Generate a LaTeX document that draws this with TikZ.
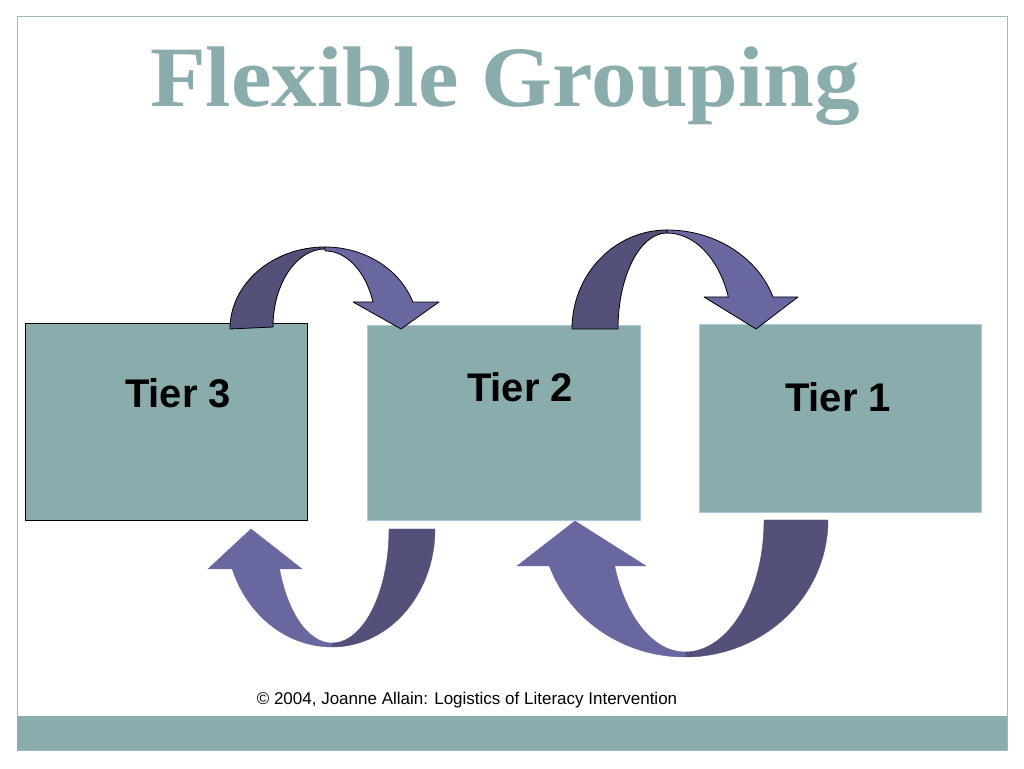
\documentclass[tikz,border=0pt]{standalone}
\usepackage{fontspec}
\setmainfont{Liberation Sans}
\newfontfamily\titlefont{Liberation Serif}
\usepackage{tikz}

\definecolor{slateteal}{RGB}{138,172,172}
\definecolor{framegray}{RGB}{160,186,186}
\definecolor{edgeblue}{RGB}{170,202,222}
\definecolor{arrowdark}{RGB}{83,80,122}
\definecolor{arrowlight}{RGB}{104,103,160}

\tikzset{
  tierbox/.style={draw, fill=slateteal, inner sep=0pt},
  tiertext/.style={font=\bfseries\fontsize{40}{44}\selectfont, anchor=base},
  toparrow/.style={draw=black, line width=0.8pt, line join=round},
  lowarrow/.style={line width=0.4pt}
}

\begin{document}
\begin{tikzpicture}[x=1pt, y=1pt]
\useasboundingbox (0,0) rectangle (1024,768);
\fill [white] (0,0) rectangle (1024,768);
\draw [framegray, line width=1pt] (17,18) rectangle (1007,751);
\fill [slateteal] (17,18) rectangle (1007,52);

\node [font=\titlefont\bfseries\fontsize{86}{90}\selectfont, text=slateteal, anchor=base] (title) at (505,661) {\scalebox{1.06}[1]{Flexible Grouping}};

\node [tierbox, draw=black, minimum width=282pt, minimum height=197pt] (tier3) at (166,346.5) {};
\node [tierbox, draw=edgeblue, minimum width=273pt, minimum height=195pt] (tier2) at (503.5,345.5) {};
\node [tierbox, draw=edgeblue, minimum width=282pt, minimum height=188pt] (tier1) at (840,350) {};
\node [tiertext] (tier3label) at (178,360) {Tier 3};
\node [tiertext] (tier2label) at (520,366) {Tier 2};
\node [tiertext] (tier1label) at (838,356) {Tier 1};

\draw [toparrow, fill=arrowdark] (230,439) arc [start angle=180, end angle=90, x radius=95, y radius=82]
  -- (325,519) arc [start angle=90, end angle=180, x radius=52, y radius=78] -- cycle;
\draw [toparrow, fill=arrowlight] (325,521) arc [start angle=90, end angle=19.2, x radius=93, y radius=82]
  -- (439,466) -- (401,439) -- (353,466) -- (373,466)
  arc [start angle=20.2, end angle=90, x radius=51, y radius=78] -- cycle;

\draw [toparrow, fill=arrowdark] (572,439) arc [start angle=180, end angle=90, x radius=95, y radius=99]
  -- (667,535) arc [start angle=90, end angle=180, x radius=49, y radius=96] -- cycle;
\draw [toparrow, fill=arrowlight] (667,538) arc [start angle=90, end angle=18.9, x radius=112, y radius=99]
  -- (798,471) -- (756,439) -- (704,471) -- (728.3,471)
  arc [start angle=19.5, end angle=90, x radius=65, y radius=96] -- cycle;

\draw [lowarrow, draw=arrowdark, fill=arrowdark] (435,239) arc [start angle=0, end angle=-90, x radius=103, y radius=118]
  -- (332,125) arc [start angle=-90, end angle=0, x radius=57, y radius=114] -- cycle;
\draw [lowarrow, draw=arrowlight, fill=arrowlight] (332,121) arc [start angle=270, end angle=199.8, x radius=106, y radius=118]
  -- (208,199) -- (251,239) -- (302,199) -- (279.6,199)
  arc [start angle=200.5, end angle=270, x radius=56, y radius=114] -- cycle;

\draw [lowarrow, draw=arrowdark, fill=arrowdark] (828,248) arc [start angle=0, end angle=-90, x radius=143, y radius=137]
  -- (685,116) arc [start angle=-90, end angle=0, x radius=79, y radius=132] -- cycle;
\draw [lowarrow, draw=arrowlight, fill=arrowlight] (685,111) arc [start angle=270, end angle=199.6, x radius=144, y radius=137]
  -- (517,202) -- (575,247) -- (646,202) -- (614.7,202)
  arc [start angle=200.4, end angle=270, x radius=75, y radius=132] -- cycle;

\node [font=\fontsize{17}{20}\selectfont, anchor=base] (credit) at (467,64) {\textcopyright{} 2004, Joanne Allain: Logistics of Literacy Intervention};
\end{tikzpicture}
\end{document}
